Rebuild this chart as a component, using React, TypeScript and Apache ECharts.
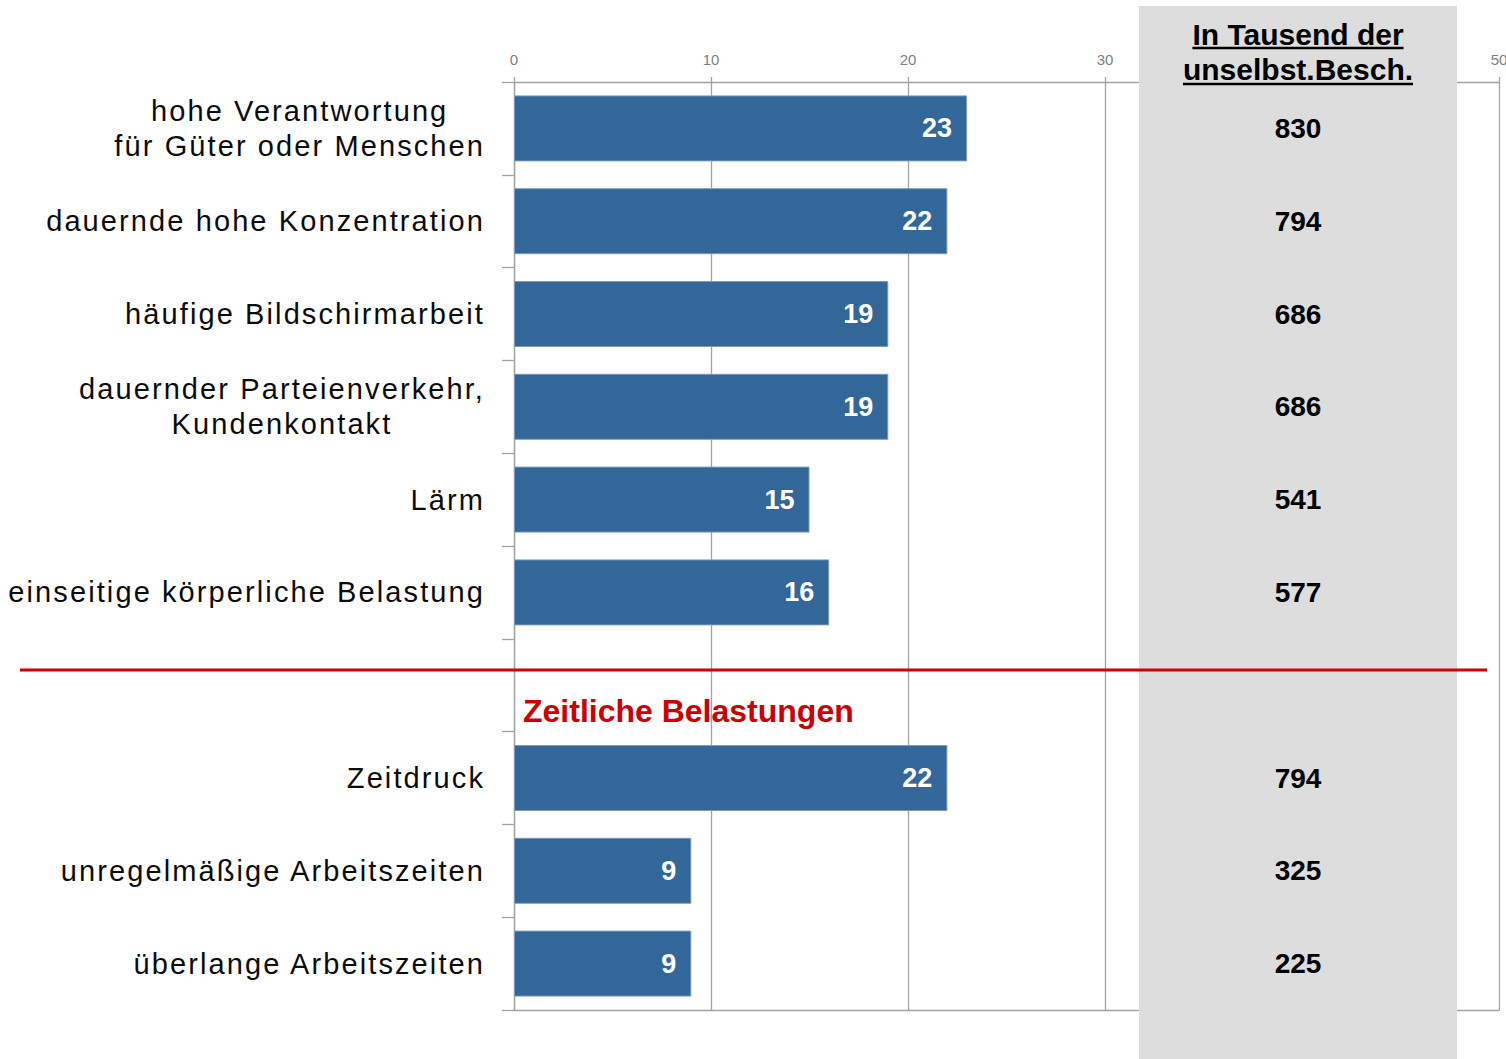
import React, { useEffect, useRef } from 'react';
import * as echarts from 'echarts';

const categories = [
  'hohe Verantwortung\nfür Güter oder Menschen',
  'dauernde hohe Konzentration',
  'häufige Bildschirmarbeit',
  'dauernder Parteienverkehr,\nKundenkontakt',
  'Lärm',
  'einseitige körperliche Belastung',
  '',
  'Zeitdruck',
  'unregelmäßige Arbeitszeiten',
  'überlange Arbeitszeiten',
];
const percentValues = [23, 22, 19, 19, 15, 16, null, 22, 9, 9];
const thousandsValues = ['830', '794', '686', '686', '541', '577', '', '794', '325', '225'];
const xTickMin = 0;
const xTickMax = 50;
const xTickStep = 10;
const hiddenTickLabels = [40]; // covered by the grey column in the reference
const headerLines = ['In Tausend der', 'unselbst.Besch.'];
const sectionTitle = 'Zeitliche Belastungen';

const LABEL_FONT_FAMILY = 'Liberation Sans';
const LABEL_FONT_SIZE = 29;
const LETTER_SPACING = 2.1;
const LABEL_COLOR = '#0b0b0b';
const HEADER_FONT = 'bold 30px "Liberation Sans"';

function measure(text: string, font: string): number {
  const ctx = document.createElement('canvas').getContext('2d');
  if (!ctx) return text.length * 15;
  ctx.font = font;
  return ctx.measureText(text).width;
}

export default function App() {
  const ref = useRef<HTMLDivElement>(null);

  useEffect(() => {
    if (!ref.current) return;
    const chart = echarts.init(ref.current, undefined, { renderer: 'svg' });

    const labelFont = `${LABEL_FONT_SIZE}px "${LABEL_FONT_FAMILY}"`;
    const rich: Record<string, any> = {};
    categories.forEach((c, i) => {
      if (c.indexOf('\n') >= 0) {
        const w = Math.max(
          ...c.split('\n').map((l) => measure(l, labelFont) + LETTER_SPACING * l.length)
        );
        rich['m' + i] = {
          width: w,
          align: 'center',
          fontSize: LABEL_FONT_SIZE,
          fontFamily: LABEL_FONT_FAMILY,
          color: LABEL_COLOR,
          lineHeight: 35,
        };
      }
    });

    const w1 = measure(headerLines[0], HEADER_FONT);
    const w2 = measure(headerLines[1], HEADER_FONT);
    const headerCx = 1298;

    const gridLine = { color: '#a3a3a3', width: 1.3 };

    const option: any = {
      animation: false,
      backgroundColor: '#ffffff',
      grid: {
        left: 514,
        right: 7,
        top: 82,
        bottom: 49,
        containLabel: false,
        outerBoundsMode: 'none',
      },
      xAxis: [
        {
          type: 'value',
          position: 'top',
          min: xTickMin,
          max: xTickMax,
          interval: xTickStep,
          axisLine: { show: true, lineStyle: gridLine },
          axisTick: { show: true, length: 5, lineStyle: gridLine },
          axisLabel: {
            color: '#808080',
            fontSize: 15,
            fontFamily: 'Liberation Sans',
            margin: 15,
            formatter: (v: number) => (hiddenTickLabels.indexOf(v) >= 0 ? '' : String(v)),
          },
          splitLine: { show: true, lineStyle: gridLine },
        },
        {
          type: 'value',
          position: 'bottom',
          min: xTickMin,
          max: xTickMax,
          interval: xTickStep,
          axisLine: { show: true, lineStyle: gridLine },
          axisTick: { show: false },
          axisLabel: { show: false },
          splitLine: { show: false },
        },
      ],
      yAxis: [
        {
          type: 'category',
          inverse: true,
          data: categories,
          axisLine: { show: true, lineStyle: gridLine },
          axisTick: { show: true, length: 12, lineStyle: gridLine },
          splitLine: { show: false },
          axisLabel: {
            interval: 0,
            margin: 29,
            align: 'right',
            fontSize: LABEL_FONT_SIZE,
            fontFamily: LABEL_FONT_FAMILY,
            color: LABEL_COLOR,
            lineHeight: 35,
            formatter: (value: string, index: number) => {
              if (value.indexOf('\n') < 0) return value;
              return value
                .split('\n')
                .map((l) => `{m${index}|${l}}`)
                .join('\n');
            },
            rich,
          },
        },
        {
          type: 'category',
          inverse: true,
          position: 'right',
          data: thousandsValues,
          z: 5,
          axisLine: { show: false },
          axisTick: { show: false },
          splitLine: { show: false },
          axisLabel: {
            inside: true,
            interval: 0,
            align: 'center',
            margin: 201,
            fontSize: 28,
            fontWeight: 'bold',
            fontFamily: 'Liberation Sans',
            color: '#000000',
          },
        },
      ],
      series: [
        {
          type: 'bar',
          data: percentValues,
          xAxisIndex: 0,
          yAxisIndex: 0,
          barWidth: 66,
          itemStyle: { color: '#336699', borderColor: '#7d9cc0', borderWidth: 1 },
          label: {
            show: true,
            position: 'insideRight',
            distance: 15,
            color: '#ffffff',
            fontWeight: 'bold',
            fontSize: 27,
            fontFamily: 'Liberation Sans',
          },
        },
      ],
      graphic: [
        {
          type: 'rect',
          z: 3,
          shape: { x: 1139, y: 6, width: 318, height: 1053 },
          style: { fill: '#dddddd' },
        },
        {
          type: 'line',
          z: 10,
          shape: { x1: 20, y1: 670, x2: 1487, y2: 670 },
          style: { stroke: '#d40000', lineWidth: 3 },
        },
        {
          type: 'text',
          z: 10,
          x: 523,
          y: 711,
          style: {
            text: sectionTitle,
            fill: '#cc0000',
            font: 'bold 32px "Liberation Sans"',
            textAlign: 'left',
            textVerticalAlign: 'middle',
            align: 'left',
            verticalAlign: 'middle',
          },
        },
        {
          type: 'text',
          z: 10,
          x: headerCx,
          y: 52,
          style: {
            text: headerLines.join('\n'),
            fill: '#000000',
            font: HEADER_FONT,
            lineHeight: 35,
            textAlign: 'center',
            textVerticalAlign: 'middle',
            align: 'center',
            verticalAlign: 'middle',
          },
        },
        {
          type: 'line',
          z: 10,
          shape: { x1: headerCx - w1 / 2, y1: 48, x2: headerCx + w1 / 2, y2: 48 },
          style: { stroke: '#000000', lineWidth: 2.5 },
        },
        {
          type: 'line',
          z: 10,
          shape: { x1: headerCx - w2 / 2, y1: 84, x2: headerCx + w2 / 2, y2: 84 },
          style: { stroke: '#000000', lineWidth: 2.5 },
        },
      ],
    };

    chart.setOption(option);
    return () => chart.dispose();
  }, []);

  return (
    <>
      <style>{`#chart text[fill="${LABEL_COLOR}"] { letter-spacing: ${LETTER_SPACING}px; }`}</style>
      <div
        id="chart"
        ref={ref}
        style={{ position: 'absolute', left: 0, top: 0, width: 1506, height: 1059 }}
      />
    </>
  );
}
